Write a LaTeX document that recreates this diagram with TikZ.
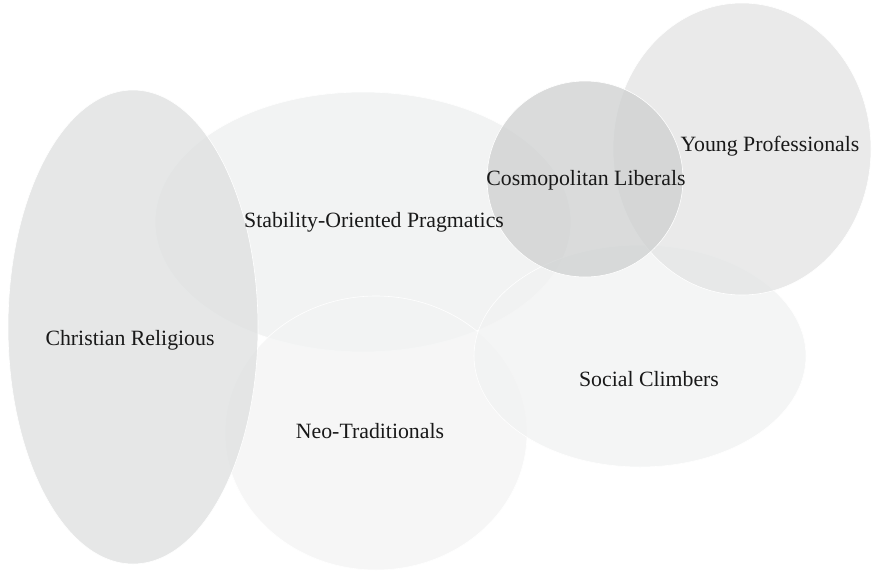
\documentclass[tikz,border=0pt]{standalone}
\usepackage{fontspec}
\setmainfont{Liberation Serif}
\definecolor{cChr}{RGB}{222,224,224}
\definecolor{cSta}{RGB}{238,239,239}
\definecolor{cNeo}{RGB}{243,244,244}
\definecolor{cSoc}{RGB}{241,242,242}
\definecolor{cYou}{RGB}{227,228,228}
\definecolor{cCos}{RGB}{206,208,208}
\begin{document}
\begin{tikzpicture}[x=1pt,y=-1pt,
  blob/.style={draw=white,line width=0.6pt,fill opacity=0.75},
  lab/.style={font=\fontsize{21.8}{24}\selectfont,text=black!90}]
\useasboundingbox (0,0) rectangle (872,570);
\fill[white] (0,0) rectangle (872,570);
\path[blob,fill=cSta] (363,222) ellipse [x radius=208,y radius=130];
\path[blob,fill=cNeo] (376,433) ellipse [x radius=151,y radius=137];
\path[blob,fill=cSoc] (640,356) ellipse [x radius=166,y radius=111];
\path[blob,fill=cYou] (742,149) ellipse [x radius=129,y radius=146];
\path[blob,fill=cCos] (585,179) ellipse [x radius=98,y radius=98];
\path[blob,fill=cChr] (133,327) ellipse [x radius=125,y radius=237];
\node[lab] (cr) at (130,340) {Christian Religious};
\node[lab] (sp) at (374,222) {Stability-Oriented Pragmatics};
\node[lab] (cl) at (586,180) {Cosmopolitan Liberals};
\node[lab] (yp) at (770,146) {Young Professionals};
\node[lab] (sc) at (649,379) {Social Climbers};
\node[lab] (nt) at (370,431) {Neo-Traditionals};
\end{tikzpicture}
\end{document}
